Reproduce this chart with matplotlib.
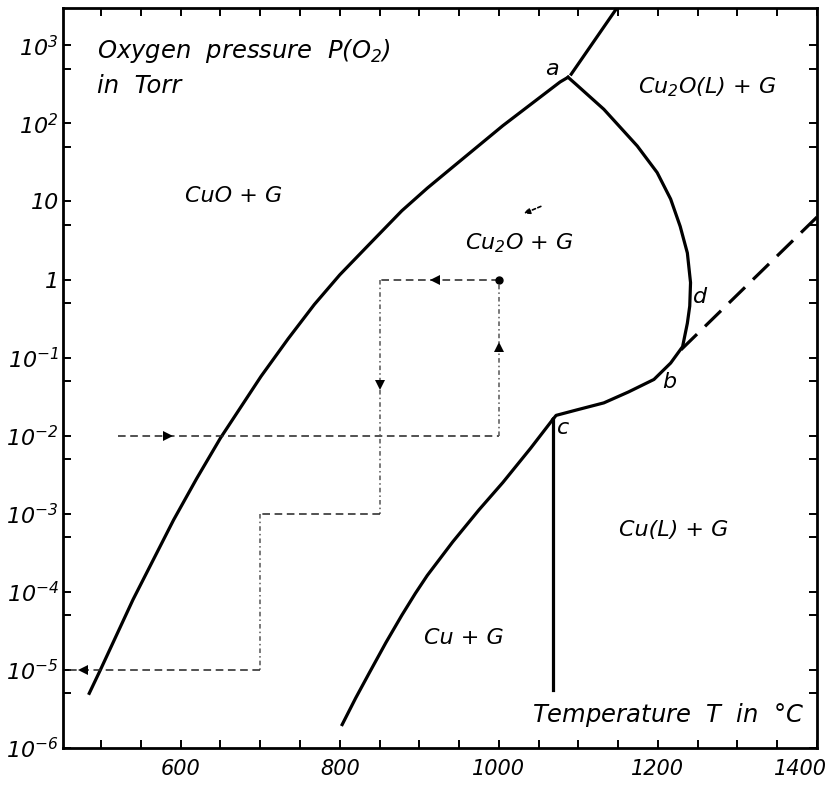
import matplotlib
matplotlib.use('Agg')
import matplotlib.pyplot as plt
from matplotlib.ticker import FixedLocator, MultipleLocator, LogLocator, NullFormatter
from matplotlib.transforms import ScaledTranslation

plt.rcParams['font.family'] = 'DejaVu Sans'
plt.rcParams['mathtext.fontset'] = 'custom'
plt.rcParams['mathtext.rm'] = 'DejaVu Sans:italic'
plt.rcParams['mathtext.it'] = 'DejaVu Sans:italic'

# Grenzlinien im Cu-O-System: T in °C, log10 P(O2) in Torr
cuo_T = [485, 499, 540, 591, 620, 650, 701, 735, 768, 800, 837, 878, 910, 942, 1005,
         1077, 1087]
cuo_logP = [-5.30, -5.00, -4.10, -3.08, -2.55, -2.03, -1.24, -0.76, -0.32, 0.06, 0.45,
            0.88, 1.17, 1.44, 1.97, 2.53, 2.59]

# oberhalb Punkt a
melt_T = [1091, 1150]
melt_logP = [2.63, 3.50]

# Cu2O fest / flüssig: a -> d -> b -> c
liq_T = [1087, 1097, 1132, 1174, 1199, 1216, 1228, 1237, 1241, 1240, 1237, 1231,
         1216, 1199, 1195, 1163, 1132, 1098, 1072, 1068]
liq_logP = [2.59, 2.50, 2.18, 1.71, 1.37, 1.03, 0.68, 0.34, -0.04, -0.34, -0.56, -0.86,
            -1.07, -1.24, -1.28, -1.44, -1.58, -1.67, -1.74, -1.79]

# Cu / Cu2O
cu_T = [803, 820, 837, 858, 878, 895, 910, 942, 975, 1005, 1040, 1068]
cu_logP = [-5.70, -5.36, -5.04, -4.65, -4.30, -4.02, -3.79, -3.36, -2.95, -2.60, -2.16, -1.79]

# Schmelzpunkt Cu (senkrecht unter c)
cumelt_T = [1068, 1068]
cumelt_logP = [-1.79, -5.26]

# gestrichelte Verlängerung ab b
ext_T = [1229, 1400]
ext_logP = [-0.90, 0.80]

# Versuchsweg
path_T = [521, 1000, 1000, 850, 850, 700, 700, 452]
path_logP = [-2, -2, 0, 0, -3, -3, -5, -5]
arrow_T = [584, 1000, 920, 850, 477]
arrow_logP = [-2, -0.87, 0, -1.35, -5]
arrow_mk = ['>', '^', '<', 'v', '<']

y_exp = [-6, -5, -4, -3, -2, -1, 0, 1, 2, 3]
y_lbl = [r'$10^{-6}$', r'$10^{-5}$', r'$10^{-4}$', r'$10^{-3}$', r'$10^{-2}$',
         r'$10^{-1}$', '1', '10', r'$10^{2}$', r'$10^{3}$']
x_ticks = [600, 800, 1000, 1200, 1400]


def p(vals):
    return [10.0 ** v for v in vals]


fig = plt.figure(figsize=(8.35, 7.87), dpi=100)
ax = fig.add_axes([63 / 835, 39 / 787, 754 / 835, 740 / 787])
ax.set_yscale('log')
ax.set_xlim(452, 1400)
ax.set_ylim(1e-6, 3e3)

lw = 2.3
ax.plot(cuo_T, p(cuo_logP), color='k', lw=lw)
ax.plot(melt_T, p(melt_logP), color='k', lw=lw)
ax.plot(liq_T, p(liq_logP), color='k', lw=lw)
ax.plot(cu_T, p(cu_logP), color='k', lw=lw)
ax.plot(cumelt_T, p(cumelt_logP), color='k', lw=lw)
ax.plot(ext_T, p(ext_logP), color='k', lw=lw, dashes=(7, 3.5))

for i in range(len(path_T) - 1):
    xs = path_T[i:i + 2]
    ys = p(path_logP[i:i + 2])
    if path_logP[i] == path_logP[i + 1]:
        ax.plot(xs, ys, color='#222222', lw=1.1, dashes=(5, 3))
    else:
        ax.plot(xs, ys, color='#555555', lw=1.1, dashes=(3, 2, 1, 2))

for t, lp, mk in zip(arrow_T, arrow_logP, arrow_mk):
    ax.plot([t], [10.0 ** lp], marker=mk, color='k', ms=7, mew=0)
ax.plot([1000], [1.0], marker='o', color='k', ms=5)

ax.annotate('', xy=(1028, 10 ** 0.83), xytext=(1056, 10 ** 0.95),
            arrowprops=dict(arrowstyle='-|>', color='k', lw=1.2,
                            mutation_scale=9, linestyle=(0, (2, 1.5))))

# Achsen
ax.xaxis.set_major_locator(FixedLocator(x_ticks))
ax.xaxis.set_minor_locator(MultipleLocator(50))
ax.yaxis.set_major_locator(FixedLocator(p(y_exp)))
ax.yaxis.set_minor_locator(LogLocator(base=10, subs=(5.0,), numticks=20))
ax.yaxis.set_minor_formatter(NullFormatter())
ax.set_yticklabels(y_lbl)
ax.set_xticklabels([str(t) for t in x_ticks])
ax.tick_params(which='both', direction='in', top=True, right=True,
               length=6, width=1.4)
ax.tick_params(axis='x', labelsize=15, pad=8)
ax.tick_params(axis='y', labelsize=16, pad=3)
for lab in ax.get_xticklabels() + ax.get_yticklabels():
    lab.set_fontstyle('italic')
# letzte Beschriftung etwas nach links, damit sie im Bild bleibt
last = ax.get_xticklabels()[-1]
last.set_transform(last.get_transform() + ScaledTranslation(-12 / 72, 0, fig.dpi_scale_trans))
for s in ax.spines.values():
    s.set_linewidth(2.0)

tk = dict(transform=ax.transAxes, fontstyle='italic', fontsize=16)
tb = dict(transform=ax.transAxes, fontstyle='italic', fontsize=17.5)
ax.text(0.045, 0.932, r'Oxygen  pressure  $P(O_2)$', ha='left', va='baseline', **tb)
ax.text(0.045, 0.885, 'in  Torr', ha='left', va='baseline', **tb)
ax.text(0.226, 0.746, 'CuO + G', ha='center', va='center', **tk)
ax.text(0.605, 0.682, r'Cu$_2$O + G', ha='center', va='center', **tk)
ax.text(0.854, 0.893, r'Cu$_2$O(L) + G', ha='center', va='center', **tk)
ax.text(0.810, 0.295, 'Cu(L) + G', ha='center', va='center', **tk)
ax.text(0.532, 0.149, 'Cu + G', ha='center', va='center', **tk)
ax.text(0.802, 0.045, r'Temperature  $T$  in  °C', ha='center', va='center', **tb)
ax.text(0.6485, 0.918, 'a', ha='center', va='center', **tk)
ax.text(0.845, 0.609, 'd', ha='center', va='center', **tk)
ax.text(0.804, 0.495, 'b', ha='center', va='center', **tk)
ax.text(0.663, 0.432, 'c', ha='center', va='center', **tk)

fig.savefig('out.png', dpi=100, facecolor='white')
